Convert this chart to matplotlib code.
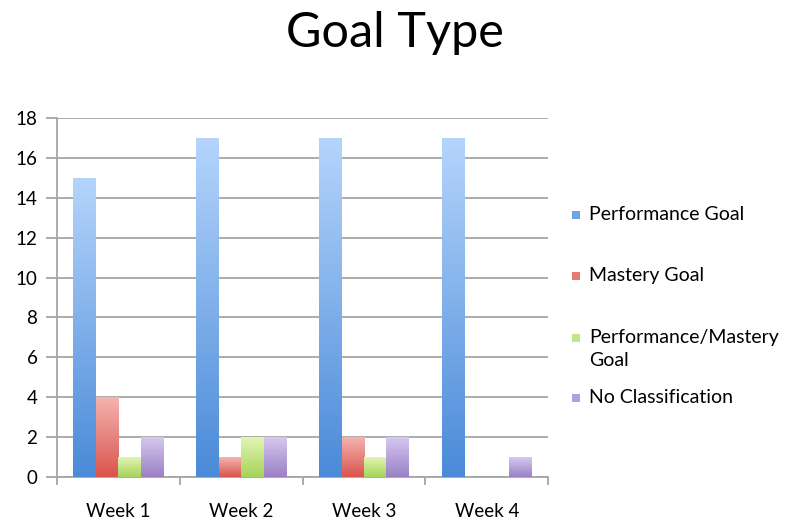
import numpy as np
import matplotlib.pyplot as plt
from matplotlib.colors import LinearSegmentedColormap
from matplotlib.patches import Rectangle

weeks = ['Week 1', 'Week 2', 'Week 3', 'Week 4']
series = ['Performance Goal', 'Mastery Goal', 'Performance/Mastery\nGoal', 'No Classification']
performance = [15, 17, 17, 17]
mastery = [4, 1, 2, 0]
perf_mastery = [1, 2, 1, 0]
no_class = [2, 2, 2, 1]

values = [performance, mastery, perf_mastery, no_class]
# (bottom colour, top colour) for the gradient fill
colors = [('#4a8ad8', '#b5d5fc'), ('#d9544c', '#f5b3b0'),
          ('#a5d35a', '#e2f6b3'), ('#9a80c6', '#d6c8f0')]
legend_colors = ['#6fa4e6', '#e87a73', '#c3e688', '#b59fdc']

W, H = 790, 525
fig = plt.figure(figsize=(W / 100, H / 100), dpi=100)
ax = fig.add_axes([0.072, 0.0914, 0.622, 0.684])

x = np.arange(len(weeks))
width = 0.183
grad = np.linspace(0, 1, 256).reshape(-1, 1)

for i, (vals, (c0, c1)) in enumerate(zip(values, colors)):
    cmap = LinearSegmentedColormap.from_list('g%d' % i, [c0, c1])
    offs = x + (i - 1.5) * width
    bars = ax.bar(offs, vals, width, color='none', edgecolor='none', zorder=3)
    for b, v in zip(bars, vals):
        if v <= 0:
            continue
        x0 = b.get_x()
        im = ax.imshow(grad, cmap=cmap, origin='lower', aspect='auto',
                       extent=[x0, x0 + width, 0, v], zorder=3)
        im.set_clip_path(b)

ax.set_xlim(-0.5, 3.5)
ax.set_ylim(0, 18)
ax.set_yticks(range(0, 19, 2))
ax.set_xticks(x)
ax.set_xticklabels(weeks)
ax.set_xticks(np.arange(-0.5, 4, 1), minor=True)

ax.yaxis.grid(True, color='#a6a6a6', linewidth=1.3, zorder=0)
ax.set_axisbelow(True)
for s in ['top', 'right']:
    ax.spines[s].set_visible(False)
for s in ['left', 'bottom']:
    ax.spines[s].set_color('#a6a6a6')
    ax.spines[s].set_linewidth(1.3)

ax.tick_params(axis='y', length=8, color='#a6a6a6', width=1.3,
               labelsize=13.5, pad=6)
ax.tick_params(axis='x', which='major', length=0, labelsize=13.5, pad=19)
ax.tick_params(axis='x', which='minor', length=6, color='#a6a6a6', width=1.3)
for lab in ax.get_xticklabels() + ax.get_yticklabels():
    lab.set_fontfamily('Lato')

fig.text(0.5, 0.937, 'Goal Type', ha='center', va='center',
         fontsize=35, fontfamily='Lato')

# legend entries placed by hand (pixel rows of the first text line)
legend_rows = [215, 276, 338, 398]
for lab, c, yp in zip(series, legend_colors, legend_rows):
    yf = 1 - yp / H
    fig.patches.append(Rectangle((572 / W, yf - 4 / H), 8 / W, 8 / H,
                                 transform=fig.transFigure, facecolor=c,
                                 edgecolor='none'))
    fig.text(589 / W, yf + 9 / H, lab, ha='left', va='top', fontsize=14,
             fontfamily='Lato', linespacing=1.45)

fig.savefig('out.png', dpi=100)
